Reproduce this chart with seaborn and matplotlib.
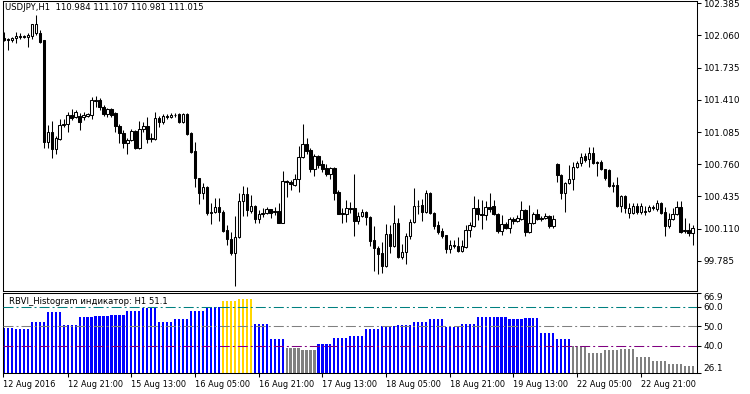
import numpy as np
import pandas as pd
import matplotlib
matplotlib.use("Agg")
import matplotlib.pyplot as plt
import seaborn as sns

# ---------------- data ----------------
opens = [
    102.039, 102.014, 102.014, 102.034, 102.045, 102.055, 102.045, 102.055, 102.085, 102.085,
    102.014, 100.985, 101.086, 100.914, 101.015, 101.156, 101.166, 101.257, 101.237, 101.247,
    101.237, 101.247, 101.257, 101.399, 101.409, 101.338, 101.267, 101.318, 101.277, 101.146,
    101.075, 100.975, 101.005, 101.096, 100.924, 101.116, 101.146, 101.015, 101.015, 101.227,
    101.187, 101.247, 101.237, 101.257, 101.267, 101.187, 101.267, 101.075, 100.894, 100.621,
    100.470, 100.530, 100.268, 100.278, 100.329, 100.278, 100.096, 100.005, 99.864, 100.026,
    100.389, 100.460, 100.288, 100.339, 100.207, 100.258, 100.268, 100.308, 100.288, 100.288,
    100.167, 100.591, 100.581, 100.551, 100.611, 100.833, 100.965, 100.904, 100.712, 100.843,
    100.763, 100.722, 100.662, 100.722, 100.480, 100.258, 100.258, 100.318, 100.318, 100.187,
    100.238, 100.278, 100.228, 99.995, 99.915, 99.864, 99.733, 100.056, 99.935, 100.167,
    99.824, 99.874, 100.036, 100.177, 100.339, 100.349, 100.278, 100.470, 100.268, 100.147,
    100.086, 100.046, 99.905, 99.945, 99.935, 99.884, 99.925, 100.096, 100.137, 100.318,
    100.258, 100.248, 100.329, 100.339, 100.258, 100.086, 100.157, 100.116, 100.207, 100.187,
    100.207, 100.298, 100.076, 100.167, 100.258, 100.207, 100.217, 100.238, 100.137, 100.763,
    100.652, 100.470, 100.571, 100.611, 100.732, 100.773, 100.843, 100.813, 100.874, 100.783,
    100.783, 100.712, 100.702, 100.540, 100.551, 100.339, 100.440, 100.268, 100.268, 100.339,
    100.278, 100.288, 100.288, 100.329, 100.308, 100.369, 100.278, 100.137, 100.207, 100.258,
    100.329, 100.086, 100.096, 100.066,
]
highs = [
    102.095, 102.034, 102.045, 102.095, 102.085, 102.065, 102.085, 102.176, 102.267, 102.115,
    102.014, 101.156, 101.197, 101.045, 101.217, 101.217, 101.287, 101.318, 101.308, 101.277,
    101.287, 101.277, 101.439, 101.449, 101.429, 101.358, 101.328, 101.328, 101.287, 101.166,
    101.106, 101.025, 101.116, 101.106, 101.197, 101.187, 101.237, 101.075, 101.287, 101.247,
    101.267, 101.267, 101.277, 101.277, 101.277, 101.277, 101.277, 101.086, 100.985, 100.621,
    100.571, 100.540, 100.369, 100.419, 100.419, 100.298, 100.147, 100.076, 100.238, 100.470,
    100.540, 100.530, 100.450, 100.349, 100.298, 100.318, 100.329, 100.308, 100.329, 100.369,
    100.692, 100.601, 100.601, 100.662, 100.944, 101.166, 101.025, 100.924, 100.864, 100.853,
    100.803, 100.763, 100.732, 100.732, 100.500, 100.318, 100.399, 100.379, 100.662, 100.278,
    100.308, 100.288, 100.238, 100.137, 99.935, 99.975, 100.157, 100.147, 100.349, 100.217,
    99.955, 100.066, 100.207, 100.520, 100.399, 100.409, 100.500, 100.480, 100.278, 100.187,
    100.116, 100.046, 99.995, 99.995, 100.026, 99.995, 100.147, 100.177, 100.440, 100.409,
    100.399, 100.389, 100.470, 100.399, 100.268, 100.248, 100.177, 100.228, 100.228, 100.248,
    100.389, 100.308, 100.349, 100.278, 100.308, 100.238, 100.268, 100.248, 100.248, 100.773,
    100.662, 100.581, 100.753, 100.783, 100.793, 100.874, 100.874, 100.934, 100.934, 100.793,
    100.803, 100.712, 100.712, 100.581, 100.631, 100.450, 100.450, 100.369, 100.369, 100.369,
    100.369, 100.339, 100.349, 100.349, 100.399, 100.379, 100.329, 100.268, 100.318, 100.389,
    100.389, 100.217, 100.167, 100.147,
]
lows = [
    102.004, 101.913, 101.994, 101.984, 102.024, 102.034, 101.944, 102.024, 102.065, 101.984,
    100.924, 100.924, 100.823, 100.864, 101.005, 101.136, 101.086, 101.207, 101.227, 101.106,
    101.207, 101.237, 101.217, 101.338, 101.308, 101.247, 101.237, 101.237, 101.086, 100.975,
    100.924, 100.864, 100.995, 100.914, 100.914, 101.086, 100.975, 100.985, 101.005, 101.136,
    101.166, 101.217, 101.227, 101.237, 101.176, 101.176, 101.055, 100.874, 100.530, 100.359,
    100.409, 100.248, 100.157, 100.268, 100.187, 100.076, 99.945, 99.844, 99.531, 100.016,
    100.238, 100.238, 100.268, 100.167, 100.167, 100.228, 100.258, 100.217, 100.248, 100.167,
    100.167, 100.429, 100.500, 100.540, 100.480, 100.823, 100.864, 100.682, 100.641, 100.722,
    100.682, 100.641, 100.611, 100.399, 100.258, 100.167, 100.177, 100.268, 100.036, 100.157,
    100.228, 100.147, 99.935, 99.683, 99.652, 99.662, 99.723, 99.864, 99.925, 99.814,
    99.804, 99.753, 100.005, 100.167, 100.258, 100.187, 100.268, 100.258, 100.106, 100.056,
    100.016, 99.864, 99.864, 99.915, 99.874, 99.874, 99.915, 100.026, 100.127, 100.197,
    100.106, 100.197, 100.278, 100.248, 100.066, 100.046, 100.106, 100.066, 100.157, 100.177,
    100.197, 100.036, 100.066, 100.157, 100.197, 100.187, 100.207, 100.116, 100.116, 100.581,
    100.409, 100.278, 100.561, 100.500, 100.722, 100.742, 100.783, 100.732, 100.763, 100.641,
    100.702, 100.601, 100.530, 100.480, 100.329, 100.278, 100.268, 100.217, 100.258, 100.258,
    100.258, 100.248, 100.278, 100.298, 100.288, 100.258, 100.036, 100.116, 100.197, 100.248,
    100.066, 100.066, 100.036, 99.945,
]
closes = [
    102.014, 102.024, 102.034, 102.055, 102.055, 102.045, 102.065, 102.176, 102.176, 101.994,
    100.985, 101.086, 100.914, 101.025, 101.156, 101.166, 101.257, 101.227, 101.287, 101.187,
    101.257, 101.267, 101.409, 101.409, 101.338, 101.267, 101.318, 101.257, 101.146, 101.075,
    100.975, 101.005, 101.096, 100.924, 101.116, 101.146, 101.015, 101.025, 101.227, 101.187,
    101.247, 101.237, 101.257, 101.262, 101.187, 101.267, 101.065, 100.884, 100.621, 100.470,
    100.530, 100.268, 100.278, 100.329, 100.278, 100.086, 100.005, 99.864, 100.026, 100.389,
    100.460, 100.298, 100.339, 100.207, 100.258, 100.268, 100.308, 100.268, 100.278, 100.167,
    100.591, 100.581, 100.561, 100.611, 100.833, 100.965, 100.894, 100.712, 100.843, 100.752,
    100.712, 100.662, 100.722, 100.470, 100.258, 100.268, 100.318, 100.308, 100.187, 100.238,
    100.278, 100.228, 99.985, 99.915, 99.854, 99.733, 100.056, 99.935, 100.167, 99.824,
    99.874, 100.036, 100.177, 100.339, 100.334, 100.278, 100.470, 100.268, 100.137, 100.076,
    100.036, 99.905, 99.945, 99.935, 99.884, 99.935, 100.096, 100.147, 100.318, 100.258,
    100.248, 100.329, 100.308, 100.258, 100.086, 100.157, 100.116, 100.207, 100.187, 100.217,
    100.298, 100.076, 100.167, 100.258, 100.207, 100.217, 100.238, 100.137, 100.207, 100.652,
    100.470, 100.571, 100.611, 100.732, 100.773, 100.833, 100.803, 100.874, 100.773, 100.773,
    100.712, 100.621, 100.540, 100.551, 100.339, 100.440, 100.318, 100.318, 100.339, 100.278,
    100.339, 100.278, 100.329, 100.318, 100.369, 100.268, 100.137, 100.207, 100.258, 100.329,
    100.076, 100.096, 100.066, 100.116,
]

# RBVI histogram: one value per H4 block, repeated over the H1 bars of the block
hist_block_values = [
    49.1, 48.4, 52.1, 57.2, 50.7, 54.8, 55.3, 55.9, 57.9, 59.5,
    52.2, 53.7, 57.8, 59.9, 62.9, 64.0, 51.0, 43.3, 38.6, 37.6,
    40.7, 43.8, 44.8, 48.4, 50.0, 50.5, 52.1, 53.6, 49.7, 51.0,
    54.7, 54.6, 53.6, 54.1, 46.6, 43.4, 39.9, 36.2, 37.7, 38.2,
    34.1, 32.2, 30.5, 29.5,
]
hist_block_sizes = [3] + [4] * 42 + [3]

price_ticks = [102.385, 102.060, 101.735, 101.410, 101.085, 100.760, 100.435, 100.110, 99.785]
hist_ticks = [26.1, 40.0, 50.0, 60.0, 66.9]
hist_levels = [60.0, 50.0, 40.0]
time_tick_bars = [0, 16, 32, 48, 64, 80, 96, 112, 128, 144, 160]
time_tick_labels = ["12 Aug 2016", "12 Aug 21:00", "15 Aug 13:00", "16 Aug 05:00",
                    "16 Aug 21:00", "17 Aug 13:00", "18 Aug 05:00", "18 Aug 21:00",
                    "19 Aug 13:00", "22 Aug 05:00", "22 Aug 21:00"]

title_text = "USDJPY,H1  110.984 111.107 110.981 111.015"
hist_text = "RBVI_Histogram индикатор: H1 51.1"

# ---------------- figure ----------------
sns.set_theme(style="white")
plt.rcParams['font.family'] = ['DejaVu Sans']

W, H = 750, 394
fig = plt.figure(figsize=(W / 100, H / 100), dpi=100)
fig.patch.set_facecolor("white")

ax = fig.add_axes([3 / W, 1 - 291 / H, 694 / W, 290 / H])
axh = fig.add_axes([3 / W, 1 - 373 / H, 694 / W, 80 / H])

O = np.array(opens); Hh = np.array(highs); L = np.array(lows); C = np.array(closes)
n = len(O)
idx = np.arange(n)
xlim = (-0.25, 174.1)

# candles
bull = C >= O
ax.vlines(idx, L, Hh, color="black", linewidth=0.75, zorder=2)
body_bottom = np.minimum(O, C)
body_h = np.maximum(np.abs(C - O), 0.0005)
ax.bar(idx, body_h, bottom=body_bottom, width=0.62,
       color=np.where(bull, "white", "black"), edgecolor="black",
       linewidth=0.75, zorder=3)

ax.set_xlim(*xlim)
ax.set_ylim(99.481, 102.408)
ax.yaxis.tick_right()
ax.set_yticks(price_ticks)
ax.set_yticklabels([f"{t:.3f}" for t in price_ticks])
ax.tick_params(axis="y", which="both", direction="out", length=3, width=0.75,
               labelsize=6.4, pad=1.5, colors="black", right=True, left=False)
ax.set_xticks([])
for s in ax.spines.values():
    s.set_color("black"); s.set_linewidth(0.75)
ax.set_facecolor("white")

fig.text(5 / W, 1 - 8 / H, title_text, fontsize=6.1, color="black",
         ha="left", va="center")

# histogram
hist_vals = np.repeat(hist_block_values, hist_block_sizes)
cat = np.where(hist_vals > 60, "high", np.where(hist_vals < 40, "low", "mid"))
dfh = pd.DataFrame({"bar": idx, "value": hist_vals, "zone": cat})
sns.barplot(data=dfh, x="bar", y="value", hue="zone", native_scale=True,
            palette={"high": "#FFD700", "mid": "#0000FF", "low": "#808080"},
            width=0.55, dodge=False, saturation=1, linewidth=0,
            legend=False, ax=axh, zorder=2)

level_colors = {60.0: "#008080", 50.0: "#808080", 40.0: "#800080"}
for lv in hist_levels:
    axh.axhline(lv, color=level_colors[lv], linewidth=0.75,
                linestyle=(0, (9.6, 2.9, 1.9, 2.9)), zorder=3)

axh.set_xlim(*xlim)
axh.set_ylim(26.1, 66.9)
axh.set_xlabel(""); axh.set_ylabel("")
axh.yaxis.tick_right()
axh.set_yticks(hist_ticks)
axh.set_yticklabels([f"{t:.1f}" for t in hist_ticks])
axh.tick_params(axis="y", direction="out", length=3, width=0.75, labelsize=6.4,
                pad=1.5, colors="black", right=True, left=False)
ylabels = axh.get_yticklabels()
ylabels[0].set_verticalalignment("bottom")
ylabels[-1].set_verticalalignment("top")

tick_pos = [xlim[0] + 0.05 if b == 0 else b for b in time_tick_bars]
axh.set_xticks(tick_pos)
axh.set_xticklabels(time_tick_labels, ha="left")
axh.tick_params(axis="x", direction="out", length=3, width=0.75, labelsize=5.9,
                pad=2, colors="black", bottom=True)
for s in axh.spines.values():
    s.set_color("black"); s.set_linewidth(0.75)
axh.set_facecolor("white")

axh.text(6 / 694, 1 - 8 / 80, hist_text, transform=axh.transAxes,
         fontsize=6.1, color="black", ha="left", va="center", zorder=5,
         bbox=dict(facecolor="white", edgecolor="none", pad=0.3))

fig.savefig("out.png", dpi=100, facecolor="white")
